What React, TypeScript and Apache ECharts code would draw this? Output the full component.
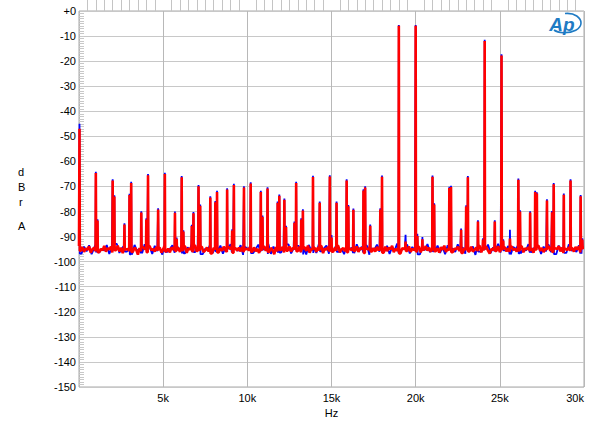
import React, { useEffect, useRef } from 'react';
import * as echarts from 'echarts';

// ---------- data ----------
const xTickValues = [0, 5000, 10000, 15000, 20000, 25000, 30000];
const xTickLabels = ['', '5k', '10k', '15k', '20k', '25k', '30k'];
const yTickValues = [0, -10, -20, -30, -40, -50, -60, -70, -80, -90, -100, -110, -120, -130, -140, -150];
const yTickLabels = ['+0', '-10', '-20', '-30', '-40', '-50', '-60', '-70', '-80', '-90', '-100', '-110', '-120', '-130', '-140', '-150'];

const RED_STEP_HZ = 100;
const BLUE_STEP_HZ = 150;

// noise floor, red channel (one value every 100 Hz from 0 Hz)
const redNoiseDb = [
  -93.8, -95.6, -94.2, -96.1, -94.7, -95.3, -93.9, -96.4, -95.0, -94.4, -95.8, -94.1, -96.2, -94.9, -95.5, -93.7, -96.0, -94.6, -95.2, -94.0,
  -96.3, -94.8, -95.4, -93.6, -95.9, -94.5, -96.6, -94.3, -95.1, -94.9, -95.7, -93.9, -96.1, -94.4, -95.3, -97.2, -94.6, -95.8, -94.2, -95.0,
  -94.7, -96.2, -93.8, -95.5, -94.9, -96.0, -94.1, -95.6, -94.5, -96.4, -95.0, -93.7, -95.9, -94.8, -96.3, -94.3, -95.2, -94.0, -95.7, -94.6,
  -96.1, -94.2, -95.4, -93.9, -96.5, -94.7, -95.1, -94.4, -95.8, -93.6, -96.0, -94.9, -95.3, -94.1, -96.2, -95.5, -94.3, -95.9, -94.8, -96.7,
  -94.5, -95.2, -93.8, -96.3, -94.6, -95.7, -94.0, -95.4, -96.1, -94.2, -95.0, -93.9, -96.4, -94.7, -95.6, -94.4, -95.9, -94.1, -96.2, -95.1,
  -94.8, -95.5, -93.7, -96.0, -94.3, -95.8, -94.9, -96.5, -94.6, -95.2, -94.0, -95.7, -93.8, -96.1, -94.5, -95.4, -97.0, -94.2, -95.9, -94.7,
  -95.3, -94.1, -96.3, -94.8, -95.6, -93.9, -96.0, -94.4, -95.1, -94.6, -95.8, -94.0, -96.2, -95.0, -94.3, -95.7, -93.6, -96.4, -94.9, -95.2,
  -94.5, -96.1, -94.2, -95.5, -93.8, -96.6, -94.7, -95.3, -94.1, -95.9, -94.8, -96.0, -94.4, -95.6, -93.7, -96.3, -95.1, -94.6, -95.8, -94.0,
  -96.2, -94.9, -95.4, -94.3, -95.7, -93.9, -96.1, -94.5, -95.0, -94.2, -96.5, -94.8, -95.2, -93.8, -95.9, -94.6, -96.0, -94.1, -95.5, -94.7,
  -95.3, -96.4, -94.0, -95.8, -94.4, -95.1, -93.7, -96.2, -94.9, -95.6, -94.3, -96.7, -94.6, -95.0, -94.2, -95.7, -93.9, -96.1, -94.8, -95.4,
  -94.5, -95.9, -94.1, -96.3, -94.7, -95.2, -93.8, -95.6, -94.4, -96.0, -95.1, -94.0, -95.8, -94.6, -96.4, -94.2, -95.3, -93.6, -96.1, -94.9,
  -95.5, -94.3, -96.2, -94.8, -95.0, -94.1, -95.7, -93.9, -96.5, -94.5, -95.4, -94.7, -95.9, -94.0, -96.0, -95.2, -94.4, -95.8, -93.7, -96.3,
  -94.6, -95.1, -94.2, -95.6, -96.8, -94.9, -95.3, -94.1, -95.7, -93.8, -96.2, -94.5, -95.0, -94.3, -95.9, -94.7, -96.1, -94.0, -95.4, -94.8,
  -96.0, -94.4, -95.5, -93.9, -96.3, -94.6, -95.2, -94.2, -95.8, -94.9, -96.4, -94.1, -95.1, -93.7, -95.7, -94.5, -96.2, -94.8, -95.3, -94.0,
  -95.6, -94.3, -96.1, -94.7, -95.0, -93.8, -95.9, -94.4, -96.5, -94.9, -95.4, -94.2, -95.7, -94.6, -96.0, -94.1, -95.2, -93.9, -96.3, -94.8,
  -94.5,
];

// noise floor, blue channel (one value every 150 Hz from 0 Hz)
const blueNoiseDb = [
  -93.2, -96.8, -94.0, -95.9, -93.5, -97.0, -94.6, -93.1, -96.3, -94.9, -95.5, -93.4, -96.9, -94.2, -95.1, -92.9, -96.5, -94.7, -93.6, -96.0,
  -94.4, -97.1, -93.3, -95.7, -94.8, -96.6, -93.0, -95.3, -94.1, -96.9, -93.7, -95.8, -94.5, -97.2, -93.2, -96.1, -94.9, -93.5, -96.4, -94.0,
  -95.6, -93.1, -96.7, -94.3, -95.2, -92.8, -96.2, -94.6, -93.9, -97.0, -94.8, -95.4, -93.3, -96.5, -94.1, -95.9, -93.6, -96.8, -94.4, -95.0,
  -93.0, -96.3, -94.7, -95.7, -93.4, -97.3, -94.2, -95.1, -93.8, -96.6, -94.9, -93.2, -96.0, -94.5, -95.5, -92.9, -96.9, -94.0, -95.8, -93.5,
  -96.4, -94.3, -95.3, -93.1, -96.7, -94.8, -95.0, -93.7, -96.2, -94.6, -97.1, -93.3, -95.6, -94.1, -96.5, -93.0, -95.9, -94.7, -93.6, -96.8,
  -94.2, -95.4, -93.4, -96.1, -94.9, -97.0, -93.8, -95.2, -94.4, -96.6, -93.1, -95.7, -94.0, -96.3, -93.5, -97.2, -94.8, -95.1, -93.2, -96.0,
  -94.6, -95.8, -93.7, -96.9, -94.3, -95.5, -92.8, -96.4, -94.9, -95.0, -93.3, -96.7, -94.1, -95.6, -93.9, -97.1, -94.5, -95.3, -93.0, -96.2,
  -94.7, -95.9, -93.6, -96.5, -94.2, -97.0, -93.4, -95.2, -94.8, -96.1, -93.1, -95.7, -94.4, -96.8, -93.8, -95.4, -94.0, -97.3, -93.5, -96.0,
  -94.9, -95.1, -93.2, -96.6, -94.3, -95.8, -92.9, -96.3, -94.6, -95.5, -93.7, -97.1, -94.1, -95.0, -93.4, -96.7, -94.8, -95.6, -93.0, -96.4,
  -94.5, -95.3, -93.8, -96.9, -94.0, -95.9, -93.3, -96.2, -94.7, -97.0, -93.6, -95.4, -94.2, -96.5, -93.1, -95.7, -94.9, -96.1, -93.5, -96.8,
  -94.4,
];

// spurious tones (Hz) and their levels (dBrA) in each channel
const spikeHz = [
  30, 1000, 1100, 2000, 2100, 2700, 3000, 3100, 3700, 4000, 4100, 4700, 5100, 5700, 5800, 6100, 6200, 6700, 6800, 7100,
  7200, 7800, 8100, 8200, 8800, 9100, 9200, 9800, 10200, 10800, 10900, 11200, 11800, 11900, 12200, 12300, 12800, 12900, 13200, 13300,
  13900, 14300, 14900, 15000, 15300, 15900, 16000, 16300, 16900, 17000, 17300, 17900, 18000, 19000, 19400, 20000, 20100, 20400, 21000, 21100,
  22000, 22100, 22700, 23000, 23100, 23700, 24000, 24100, 24700, 25100, 25200, 25600, 26100, 26200, 26800, 27100, 27200, 27800, 28100, 28200,
  28800, 29200, 29800, 29900,
];
const redSpikeDb = [
  -47.0, -64.6, -83.6, -67.6, -74.0, -85.2, -73.4, -68.6, -80.4, -83.2, -65.5, -79.2, -65.0, -80.5, -90.9, -66.3, -88.0, -85.8, -80.7, -69.9,
  -77.7, -74.4, -76.3, -72.2, -71.2, -87.6, -69.4, -70.4, -68.8, -72.2, -82.1, -70.8, -76.5, -73.7, -75.3, -86.2, -84.5, -68.6, -83.2, -79.6,
  -66.2, -76.5, -66.0, -90.4, -76.5, -67.6, -77.9, -79.3, -71.6, -70.4, -85.7, -79.2, -66.1, -5.9, -92.0, -5.9, -89.8, -91.1, -66.1, -77.2,
  -70.6, -70.2, -87.3, -78.0, -66.3, -84.0, -91.2, -12.0, -84.0, -17.8, -91.6, -90.8, -67.3, -80.0, -80.4, -72.2, -72.8, -75.6, -80.3, -69.1,
  -73.3, -67.6, -73.9, -91.2,
];
const blueSpikeDb = [
  -45.0, -64.1, -83.1, -67.1, -73.5, -84.7, -72.9, -68.1, -79.9, -82.7, -65.0, -78.7, -64.5, -80.0, -90.4, -65.8, -87.5, -85.3, -80.2, -69.4,
  -77.2, -73.9, -75.8, -71.7, -70.7, -87.1, -68.9, -69.9, -68.3, -71.7, -81.6, -70.3, -76.0, -73.2, -74.8, -85.7, -84.0, -68.1, -82.7, -79.1,
  -65.7, -76.0, -65.5, -89.4, -76.0, -67.1, -77.4, -78.8, -71.1, -69.9, -85.2, -78.7, -65.6, -5.6, -89.3, -5.6, -88.9, -90.2, -65.6, -76.7,
  -70.1, -69.7, -86.8, -77.5, -65.8, -83.5, -90.7, -11.5, -83.5, -17.3, -91.1, -87.3, -66.8, -79.5, -79.9, -71.7, -72.3, -75.1, -79.8, -68.6,
  -72.8, -67.1, -73.4, -90.7,
];

// ---------- helpers ----------
// Merges a sampled noise floor with the spurious tones; each tone stands
// on the floor value of its nearest noise sample so that it is drawn as a
// narrow vertical line.
function buildTrace(noise: number[], step: number, spikes: number[], peaks: number[]): [number, number][] {
  const pts: [number, number][] = [];
  noise.forEach((v, i) => {
    const f = i * step;
    if (spikes.some((s) => Math.abs(s - f) < step * 0.3)) return;
    pts.push([f, v]);
  });
  spikes.forEach((s, i) => {
    const k = Math.min(noise.length - 1, Math.round(s / step));
    const k2 = Math.min(noise.length - 1, k + 1);
    pts.push([Math.max(0, s - 18), noise[k]]);
    pts.push([s, peaks[i]]);
    pts.push([s + 18, noise[k2]]);
  });
  pts.sort((a, b) => a[0] - b[0]);
  return pts;
}

let logoRegistered = false;
function registerLogo() {
  if (logoRegistered) return;
  const d = 'M -2 -9.5 C 8 -10.5 14 -5 14 0 C 14 6 6 10 -4 9.7 C -8 9.5 -11 8.5 -13 7';
  echarts.graphic.registerShape('apSwoosh', echarts.graphic.extendPath(d, {}) as any);
  logoRegistered = true;
}

const FONT = 'Liberation Sans, Arial, sans-serif';

export default function App() {
  const ref = useRef<HTMLDivElement>(null);

  useEffect(() => {
    if (!ref.current) return;
    registerLogo();
    const chart = echarts.init(ref.current, undefined, { renderer: 'svg' });

    const redData = buildTrace(redNoiseDb, RED_STEP_HZ, spikeHz, redSpikeDb);
    const blueData = buildTrace(blueNoiseDb, BLUE_STEP_HZ, spikeHz, blueSpikeDb);

    const option: any = {
      animation: false,
      backgroundColor: '#ffffff',
      grid: {
        left: 79,
        right: 16,
        top: 11,
        bottom: 46,
        show: true,
        borderColor: '#a8a8a8',
        borderWidth: 1,
        backgroundColor: 'transparent',
      },
      xAxis: {
        type: 'value',
        min: 0,
        max: 30000,
        interval: 5000,
        axisLine: { show: false },
        axisTick: { show: false, inside: true },
        minorTick: { show: true, splitNumber: 10, length: 13, lineStyle: { color: '#c4c4c4', width: 1 } },
        splitLine: { show: true, lineStyle: { color: '#b8b8b8', width: 1 } },
        axisLabel: {
          color: '#000',
          fontSize: 11,
          fontFamily: FONT,
          margin: 5,
          showMinLabel: true,
          showMaxLabel: true,
          alignMaxLabel: 'right',
          formatter: (v: number) => {
            const i = xTickValues.indexOf(v);
            return i >= 0 ? xTickLabels[i] : '';
          },
        },
        name: 'Hz',
        nameLocation: 'middle',
        nameGap: 20,
        nameTextStyle: { color: '#000', fontSize: 11, fontFamily: FONT },
      },
      yAxis: {
        type: 'value',
        min: -150,
        max: 0,
        interval: 10,
        axisLine: { show: false },
        axisTick: { show: false, inside: true },
        minorTick: { show: true, splitNumber: 10, length: 5, lineStyle: { color: '#c8c8c8', width: 1 } },
        splitLine: { show: true, lineStyle: { color: '#c8c8c8', width: 1 } },
        axisLabel: {
          color: '#000',
          fontSize: 11,
          fontFamily: FONT,
          margin: 3,
          formatter: (v: number) => {
            const i = yTickValues.indexOf(v);
            return i >= 0 ? yTickLabels[i] : String(v);
          },
        },
      },
      series: [
        {
          type: 'line',
          data: blueData,
          showSymbol: false,
          symbol: 'none',
          lineStyle: { color: '#0000ff', width: 1.8 },
          itemStyle: { color: '#0000ff' },
          clip: true,
          z: 2,
        },
        {
          type: 'line',
          data: redData,
          showSymbol: false,
          symbol: 'none',
          lineStyle: { color: '#ff0000', width: 2.6 },
          itemStyle: { color: '#ff0000' },
          clip: true,
          z: 3,
        },
      ],
      graphic: [
        { type: 'text', left: 18, top: 166, style: { text: 'd', fontSize: 11, fontFamily: FONT, fill: '#000' } },
        { type: 'text', left: 18, top: 181, style: { text: 'B', fontSize: 11, fontFamily: FONT, fill: '#000' } },
        { type: 'text', left: 19, top: 196, style: { text: 'r', fontSize: 11, fontFamily: FONT, fill: '#000' } },
        { type: 'text', left: 18, top: 220, style: { text: 'A', fontSize: 11, fontFamily: FONT, fill: '#000' } },
        {
          type: 'text',
          x: 562,
          y: 24,
          style: {
            text: 'Ap',
            fontSize: 19,
            fontStyle: 'italic',
            fontWeight: 'bold',
            fontFamily: FONT,
            fill: '#1f7bc4',
            align: 'center',
            verticalAlign: 'middle',
          },
          z: 10,
        },
        {
          type: 'apSwoosh',
          x: 567,
          y: 23,
          style: { stroke: '#1f7bc4', fill: 'none', lineWidth: 1.6 },
          z: 10,
        },
      ],
    };

    chart.setOption(option);
    return () => chart.dispose();
  }, []);

  return (
    <div
      ref={ref}
      style={{ position: 'fixed', left: 0, top: 0, width: 600, height: 433, background: '#fff' }}
    />
  );
}
